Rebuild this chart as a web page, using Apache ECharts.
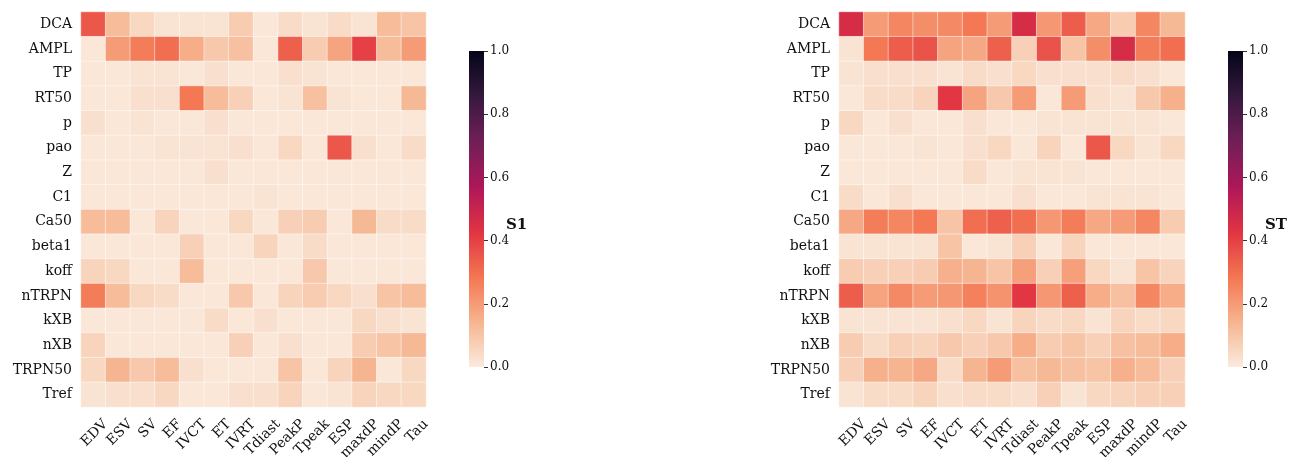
<!DOCTYPE html>
<html>
<head>
<meta charset="utf-8">
<script src="https://cdn.jsdelivr.net/npm/echarts@6/dist/echarts.min.js"></script>
<style>
  html, body { margin: 0; padding: 0; background: #ffffff; }
  #chart { width: 1297px; height: 457px; }
</style>
</head>
<body>
<div id="chart"></div>
<script>
// Model outputs (columns) and input parameters (rows)
const outputs = ['EDV', 'ESV', 'SV', 'EF', 'IVCT', 'ET', 'IVRT', 'Tdiast', 'PeakP', 'Tpeak', 'ESP', 'maxdP', 'mindP', 'Tau'];
const params = ['DCA', 'AMPL', 'TP', 'RT50', 'p', 'pao', 'Z', 'C1', 'Ca50', 'beta1', 'koff', 'nTRPN', 'kXB', 'nXB', 'TRPN50', 'Tref'];

// First-order Sobol indices, one row per parameter
const s1Rows = [
  [0.35, 0.12, 0.05, 0.02, 0.02, 0.02, 0.08, 0.01, 0.04, 0.02, 0.04, 0.02, 0.12, 0.10],
  [0.01, 0.20, 0.27, 0.30, 0.16, 0.09, 0.11, 0.01, 0.33, 0.08, 0.18, 0.40, 0.12, 0.20],
  [0.01, 0.01, 0.02, 0.02, 0.01, 0.03, 0.01, 0.01, 0.03, 0.02, 0.01, 0.01, 0.01, 0.01],
  [0.01, 0.01, 0.03, 0.03, 0.28, 0.12, 0.07, 0.01, 0.02, 0.11, 0.02, 0.01, 0.01, 0.13],
  [0.03, 0.01, 0.02, 0.01, 0.01, 0.03, 0.01, 0.01, 0.01, 0.01, 0.01, 0.01, 0.01, 0.01],
  [0.01, 0.01, 0.01, 0.02, 0.02, 0.02, 0.03, 0.01, 0.05, 0.01, 0.35, 0.03, 0.01, 0.04],
  [0.01, 0.01, 0.01, 0.01, 0.01, 0.03, 0.01, 0.01, 0.01, 0.01, 0.01, 0.01, 0.01, 0.01],
  [0.01, 0.01, 0.01, 0.01, 0.01, 0.01, 0.01, 0.02, 0.01, 0.01, 0.01, 0.01, 0.01, 0.01],
  [0.12, 0.12, 0.01, 0.06, 0.01, 0.01, 0.05, 0.01, 0.07, 0.08, 0.01, 0.13, 0.04, 0.04],
  [0.01, 0.01, 0.01, 0.01, 0.07, 0.01, 0.01, 0.06, 0.01, 0.04, 0.01, 0.01, 0.01, 0.01],
  [0.06, 0.05, 0.01, 0.01, 0.12, 0.01, 0.01, 0.01, 0.01, 0.09, 0.01, 0.01, 0.01, 0.01],
  [0.27, 0.12, 0.05, 0.04, 0.01, 0.01, 0.09, 0.01, 0.06, 0.08, 0.05, 0.03, 0.10, 0.12],
  [0.01, 0.01, 0.01, 0.01, 0.01, 0.04, 0.01, 0.03, 0.01, 0.01, 0.01, 0.05, 0.03, 0.02],
  [0.06, 0.01, 0.01, 0.01, 0.01, 0.01, 0.07, 0.01, 0.03, 0.01, 0.01, 0.08, 0.10, 0.13],
  [0.05, 0.14, 0.09, 0.12, 0.03, 0.01, 0.01, 0.01, 0.10, 0.01, 0.06, 0.14, 0.01, 0.05],
  [0.02, 0.03, 0.03, 0.05, 0.01, 0.01, 0.03, 0.03, 0.06, 0.01, 0.02, 0.06, 0.05, 0.05]
];

// Total-order Sobol indices, one row per parameter
const stRows = [
  [0.46, 0.20, 0.25, 0.23, 0.24, 0.28, 0.20, 0.46, 0.21, 0.34, 0.17, 0.08, 0.25, 0.13],
  [0.02, 0.28, 0.34, 0.36, 0.18, 0.17, 0.33, 0.07, 0.36, 0.10, 0.23, 0.46, 0.27, 0.30],
  [0.02, 0.03, 0.03, 0.03, 0.02, 0.04, 0.03, 0.05, 0.03, 0.03, 0.03, 0.04, 0.03, 0.01],
  [0.01, 0.04, 0.04, 0.06, 0.42, 0.18, 0.09, 0.20, 0.01, 0.20, 0.03, 0.02, 0.09, 0.15],
  [0.05, 0.01, 0.03, 0.01, 0.01, 0.03, 0.01, 0.01, 0.02, 0.02, 0.02, 0.02, 0.02, 0.01],
  [0.01, 0.01, 0.01, 0.02, 0.01, 0.03, 0.05, 0.01, 0.06, 0.01, 0.35, 0.05, 0.02, 0.05],
  [0.01, 0.01, 0.01, 0.01, 0.01, 0.04, 0.01, 0.02, 0.02, 0.02, 0.01, 0.01, 0.01, 0.01],
  [0.04, 0.01, 0.03, 0.01, 0.01, 0.01, 0.01, 0.03, 0.01, 0.01, 0.02, 0.02, 0.02, 0.01],
  [0.17, 0.27, 0.25, 0.28, 0.10, 0.30, 0.33, 0.30, 0.21, 0.27, 0.17, 0.20, 0.25, 0.08],
  [0.02, 0.02, 0.02, 0.02, 0.10, 0.01, 0.02, 0.07, 0.01, 0.06, 0.01, 0.01, 0.01, 0.01],
  [0.08, 0.07, 0.07, 0.08, 0.15, 0.14, 0.10, 0.19, 0.07, 0.19, 0.05, 0.02, 0.10, 0.06],
  [0.34, 0.18, 0.24, 0.20, 0.21, 0.26, 0.22, 0.42, 0.21, 0.33, 0.16, 0.11, 0.25, 0.16],
  [0.02, 0.02, 0.02, 0.02, 0.03, 0.05, 0.02, 0.06, 0.04, 0.05, 0.02, 0.06, 0.04, 0.05],
  [0.08, 0.04, 0.07, 0.06, 0.09, 0.07, 0.09, 0.16, 0.08, 0.10, 0.07, 0.11, 0.12, 0.16],
  [0.07, 0.15, 0.14, 0.17, 0.04, 0.14, 0.20, 0.11, 0.13, 0.11, 0.10, 0.15, 0.12, 0.07],
  [0.02, 0.04, 0.04, 0.06, 0.03, 0.04, 0.04, 0.03, 0.07, 0.02, 0.05, 0.06, 0.07, 0.07]
];

// Colorbar ticks
const colorbarTicks = [0.0, 0.2, 0.4, 0.6, 0.8, 1.0];

// Reversed "rocket" colour ramp, evenly spaced stops from 0 to 1
const rampColors = ['#faebdd', '#f6b48f', '#f37651', '#e13342', '#ad1759', '#701f57', '#35193e', '#03051a'];

const FONT = 'DejaVu Serif';
const LABEL_SIZE = 14;

function toCells(rows) {
  const out = [];
  rows.forEach((row, r) => row.forEach((v, c) => out.push([c, r, v])));
  return out;
}

function gradientFill() {
  return new echarts.graphic.LinearGradient(0, 1, 0, 0,
    rampColors.map((c, i) => ({ offset: i / (rampColors.length - 1), color: c })));
}

const panels = [
  { rows: s1Rows, name: 'S1', left: 81, width: 345, barLeft: 469, titleLeft: 501 },
  { rows: stRows, name: 'ST', left: 839, width: 346, barLeft: 1228, titleLeft: 1260 }
];

const grid = [], xAxis = [], yAxis = [], series = [], visualMap = [], title = [];

panels.forEach((p, i) => {
  const g = 2 * i;          // heatmap grid
  const cb = 2 * i + 1;     // colorbar grid

  grid.push({ left: p.left, top: 12, width: p.width, height: 395, outerBoundsMode: 'none' });
  // cell axis used by the heatmap (labels drawn by the companion axis below)
  xAxis.push({
    type: 'category', data: outputs, gridIndex: g, show: false
  });
  yAxis.push({
    type: 'category', data: params, gridIndex: g, inverse: true,
    axisLine: { show: false }, axisTick: { show: false },
    axisLabel: { margin: 9, color: '#111', fontFamily: FONT, fontSize: LABEL_SIZE, interval: 0 }
  });
  series.push({
    type: 'heatmap', xAxisIndex: xAxis.length - 1, yAxisIndex: yAxis.length - 1,
    data: toCells(p.rows),
    itemStyle: { borderColor: 'rgba(255,255,255,0.8)', borderWidth: 0.6 },
    emphasis: { disabled: true }, silent: true
  });
  visualMap.push({
    show: false, type: 'continuous', min: 0, max: 1, dimension: 2,
    seriesIndex: series.length - 1, inRange: { color: rampColors }
  });
  // label axis: ticks on cell edges so the rotated names (which end at
  // their tick) sit centred beneath each column
  xAxis.push({
    type: 'category', data: [''].concat(outputs), gridIndex: g, position: 'bottom',
    boundaryGap: false,
    axisLine: { show: false }, axisTick: { show: false }, splitLine: { show: false },
    axisLabel: { rotate: 45, margin: 15, color: '#111', fontFamily: FONT, fontSize: LABEL_SIZE, interval: 0 }
  });

  grid.push({ left: p.barLeft, top: 51, width: 15, height: 316, outerBoundsMode: 'none' });
  xAxis.push({ type: 'category', data: [''], gridIndex: cb, show: false });
  yAxis.push({
    type: 'value', gridIndex: cb, position: 'right', min: 0, max: 1, interval: 0.2,
    axisLine: { show: false }, splitLine: { show: false },
    axisTick: { show: true, length: 4, lineStyle: { color: '#333', width: 1 } },
    axisLabel: { margin: 6, color: '#111', fontFamily: FONT, fontSize: 12,
      formatter: v => colorbarTicks.includes(Math.round(v * 10) / 10) ? v.toFixed(1) : '' }
  });
  series.push({
    type: 'bar', xAxisIndex: xAxis.length - 1, yAxisIndex: yAxis.length - 1,
    data: [1], barWidth: '100%', silent: true,
    itemStyle: { color: gradientFill() }
  });

  title.push({
    text: p.name, left: p.titleLeft, top: 213,
    textStyle: { fontFamily: FONT, fontSize: 15, fontWeight: 'bold', color: '#111' }
  });
});

const chart = echarts.init(document.getElementById('chart'), null, { renderer: 'canvas' });
chart.setOption({
  backgroundColor: '#ffffff',
  animation: false,
  title, grid, xAxis, yAxis, visualMap, series
});
</script>
</body>
</html>
